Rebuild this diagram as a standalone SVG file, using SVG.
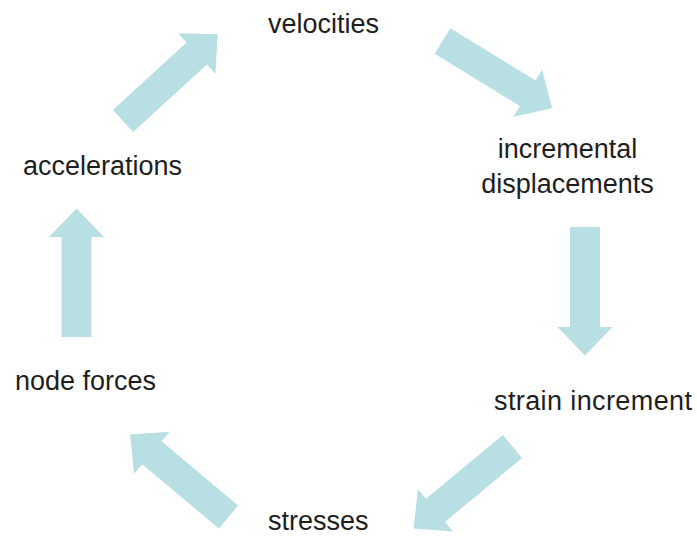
<svg xmlns="http://www.w3.org/2000/svg" xmlns:xlink="http://www.w3.org/1999/xlink" width="697" height="536" viewBox="0 0 697 536">
<style>
text{font-family:"Liberation Sans",Arial,sans-serif;font-size:27px;fill:#1e1e1e}
.arr{fill:#b8dfe3}
</style>
<defs>
<path id="arrow" d="M0,-15 L100,-15 L100,-27.5 L128.5,0 L100,27.5 L100,15 L0,15 Z"/>
</defs>
<rect width="697" height="536" fill="#ffffff"/>
<g id="connectors" class="arr">
<use xlink:href="#arrow" transform="translate(123,121) rotate(-42.5)"/>
<use xlink:href="#arrow" transform="translate(442.5,41) rotate(31.5)"/>
<use xlink:href="#arrow" transform="translate(585,227) rotate(90)"/>
<use xlink:href="#arrow" transform="translate(512.5,446.5) rotate(140.4)"/>
<use xlink:href="#arrow" transform="translate(228.5,517) rotate(-140)"/>
<use xlink:href="#arrow" transform="translate(76.5,337) rotate(-90)"/>
</g>
<g id="velocities"><text x="268" y="33">velocities</text></g>
<g id="incremental-displacements"><text x="567.5" y="158" text-anchor="middle">incremental</text><text x="567.5" y="193" text-anchor="middle">displacements</text></g>
<g id="strain-increment"><text x="494" y="410" textLength="198" lengthAdjust="spacing">strain increment</text></g>
<g id="stresses"><text x="268" y="530">stresses</text></g>
<g id="node-forces"><text x="15" y="390">node forces</text></g>
<g id="accelerations"><text x="23" y="175">accelerations</text></g>
</svg>
